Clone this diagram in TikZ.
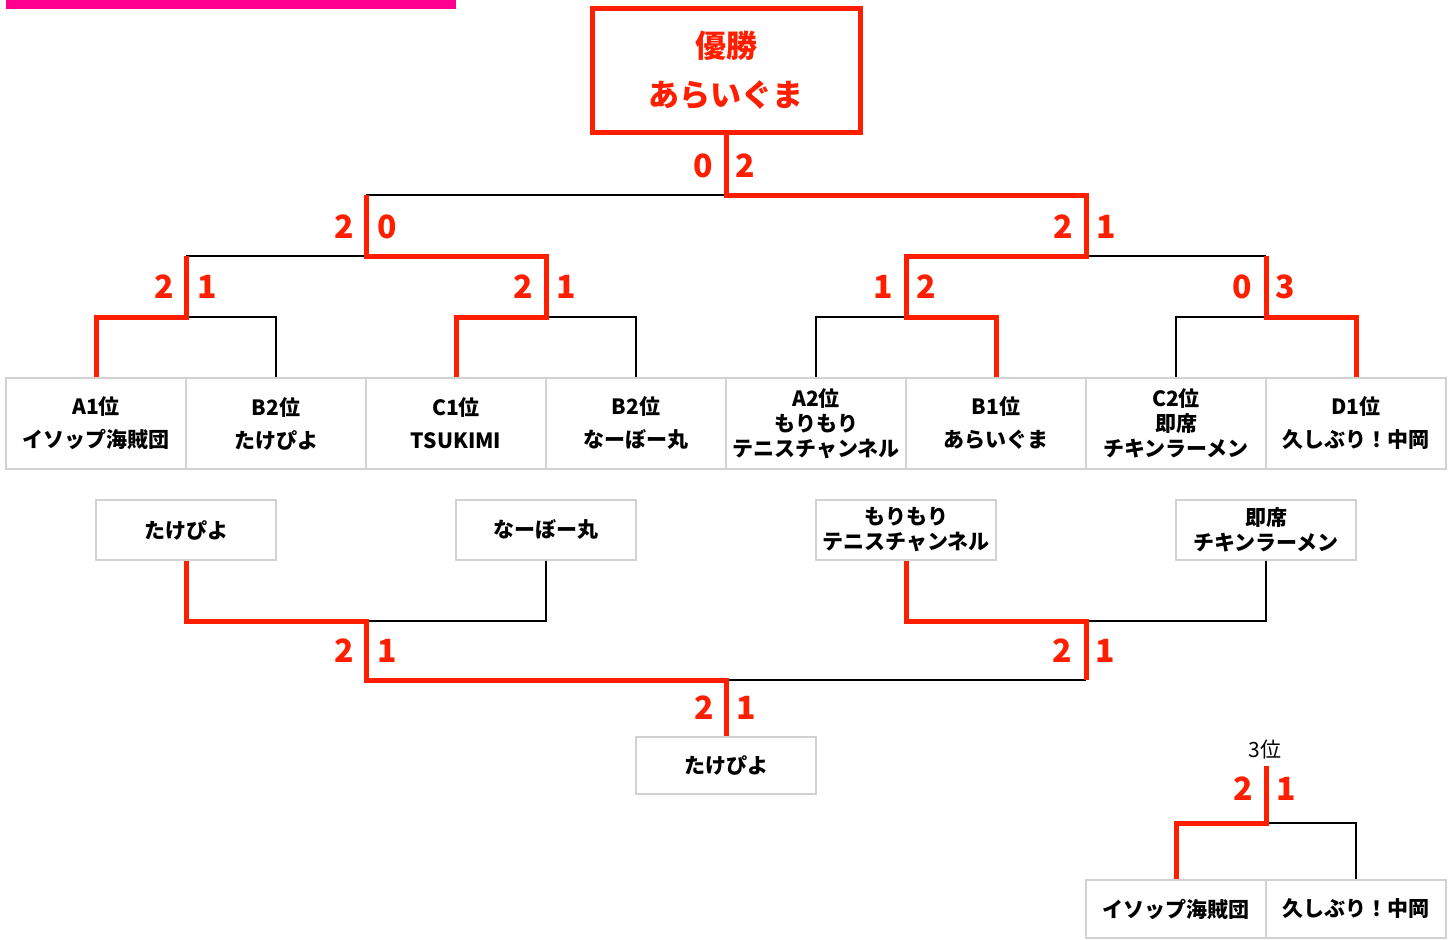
\documentclass[tikz,border=0pt]{standalone}
\usepackage{fontspec}
\setmainfont{Noto Sans CJK JP}
\usepackage{xcolor}
\definecolor{winred}{RGB}{255,30,0}
\definecolor{cellgray}{RGB}{210,210,210}
\definecolor{barpink}{RGB}{255,0,144}
\tikzset{
  team/.style={draw=cellgray, line width=1.3pt, minimum width=180pt, minimum height=91pt, inner sep=0pt, align=center, font=\bfseries\fontsize{21}{25}\selectfont},
  win/.style={draw=winred, line width=5pt},
  lose/.style={draw=black, line width=2pt},
  score/.style={text=winred, inner sep=0pt, font=\bfseries\fontsize{32}{32}\selectfont}
}
\begin{document}
\begin{tikzpicture}[x=1pt, y=-1pt]
\useasboundingbox (0,0) rectangle (1455,939);
\fill[barpink] (6,0) rectangle (456,9);

\node [draw=winred, line width=5pt, minimum width=268pt, minimum height=124pt, align=center, text=winred, font=\bfseries\fontsize{31}{49}\selectfont] (champ) at (726,70.5) {優勝\\あらいぐま};

\node [team] (a1) at (96,423.5) {A1位\\[8pt]イソップ海賊団};
\node [team] (b2a) at (276,423.5) {B2位\\[8pt]たけぴよ};
\node [team] (c1) at (456,423.5) {C1位\\[8pt]TSUKIMI};
\node [team] (b2b) at (636,423.5) {B2位\\[8pt]なーぼー丸};
\node [team] (a2) at (816,423.5) {A2位\\もりもり\\テニスチャンネル};
\node [team] (b1) at (996,423.5) {B1位\\[8pt]あらいぐま};
\node [team] (c2) at (1176,423.5) {C2位\\即席\\チキンラーメン};
\node [team] (d1) at (1356,423.5) {D1位\\[8pt]久しぶり！中岡};

\coordinate (r1a) at (186,317);
\coordinate (r1b) at (546,317);
\coordinate (r1c) at (906,317);
\coordinate (r1d) at (1266,317);
\coordinate (t1a) at (186,256);
\coordinate (t1b) at (546,256);
\coordinate (t1c) at (906,256);
\coordinate (t1d) at (1266,256);
\coordinate (r2a) at (366,256);
\coordinate (r2b) at (1086,256);
\coordinate (t2a) at (366,195);
\coordinate (t2b) at (1086,195);
\coordinate (r3) at (726,195);

\draw [lose] (b2a.north) |- (r1a);
\draw [lose] (b2b.north) |- (r1b);
\draw [lose] (a2.north) |- (r1c);
\draw [lose] (c2.north) |- (r1d);
\draw [lose] (t1a) -- (r2a);
\draw [lose] (t1d) -- (r2b);
\draw [lose] (t2a) -- (r3);
\draw [win] (a1.north) |- (r1a) -- (t1a);
\draw [win] (c1.north) |- (r1b) -- (t1b) -- (r2a) -- (t2a);
\draw [win] (b1.north) |- (r1c) -- (t1c) -- (r2b) -- (t2b) -- (r3) -- (champ.south);
\draw [win] (d1.north) |- (r1d) -- (t1d);

\node [score] (s3l) at (703,166) {0};
\node [score] (s3r) at (745,166) {2};
\node [score] (s2al) at (344,227) {2};
\node [score] (s2ar) at (387,227) {0};
\node [score] (s2bl) at (1063,227) {2};
\node [score] (s2br) at (1106,227) {1};
\node [score] (s1al) at (164,287) {2};
\node [score] (s1ar) at (207,287) {1};
\node [score] (s1bl) at (523,287) {2};
\node [score] (s1br) at (566,287) {1};
\node [score] (s1cl) at (883,287) {1};
\node [score] (s1cr) at (926,287) {2};
\node [score] (s1dl) at (1242,287) {0};
\node [score] (s1dr) at (1285,287) {3};

\node [team, minimum height=60pt] (l1) at (186,530) {たけぴよ};
\node [team, minimum height=60pt] (l2) at (546,530) {なーぼー丸};
\node [team, minimum height=60pt] (l3) at (906,530) {もりもり\\テニスチャンネル};
\node [team, minimum height=60pt] (l4) at (1266,530) {即席\\チキンラーメン};
\node [team, minimum height=57pt] (final) at (726,765.5) {たけぴよ};

\coordinate (m1a) at (366,621);
\coordinate (m1b) at (1086,621);
\coordinate (n1a) at (366,680);
\coordinate (n1b) at (1086,680);
\coordinate (m2) at (726,680);

\draw [lose] (l2.south) |- (m1a);
\draw [lose] (l4.south) |- (m1b);
\draw [lose] (n1b) -- (m2);
\draw [win] (l1.south) |- (m1a) -- (n1a) -- (m2) -- (final.north);
\draw [win] (l3.south) |- (m1b) -- (n1b);

\node [score] (sl1l) at (344,651) {2};
\node [score] (sl1r) at (387,651) {1};
\node [score] (sl2l) at (1062,651) {2};
\node [score] (sl2r) at (1105,651) {1};
\node [score] (sfl) at (704,708) {2};
\node [score] (sfr) at (746,708) {1};

\node [team, minimum height=58pt] (p1) at (1176,909) {イソップ海賊団};
\node [team, minimum height=58pt] (p2) at (1356,909) {久しぶり！中岡};
\node [font=\fontsize{21}{25}\selectfont] (third) at (1265,750) {3位};
\coordinate (q0) at (1266,766);
\coordinate (q1) at (1266,823);
\draw [lose] (p2.north) |- (q1);
\draw [win] (p1.north) |- (q1) -- (q0);
\node [score] (spl) at (1243,789) {2};
\node [score] (spr) at (1286,789) {1};
\end{tikzpicture}
\end{document}
